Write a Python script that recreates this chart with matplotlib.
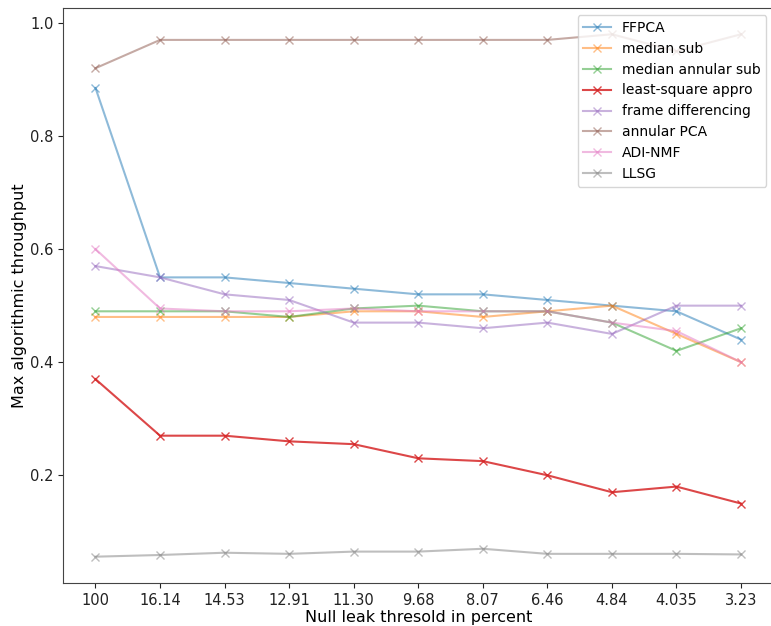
import matplotlib
matplotlib.use("Agg")
import matplotlib.pyplot as plt
import numpy as np

thresholds = ["100", "16.14", "14.53", "12.91", "11.30", "9.68", "8.07", "6.46", "4.84", "4.035", "3.23"]

ffpca = [0.885, 0.55, 0.55, 0.54, 0.53, 0.52, 0.52, 0.51, 0.50, 0.49, 0.44]
median_sub = [0.48, 0.48, 0.48, 0.48, 0.49, 0.49, 0.48, 0.49, 0.50, 0.45, 0.40]
median_annular_sub = [0.49, 0.49, 0.49, 0.48, 0.495, 0.50, 0.49, 0.49, 0.47, 0.42, 0.46]
least_square = [0.37, 0.27, 0.27, 0.26, 0.255, 0.23, 0.225, 0.20, 0.17, 0.18, 0.15]
frame_diff = [0.57, 0.55, 0.52, 0.51, 0.47, 0.47, 0.46, 0.47, 0.45, 0.50, 0.50]
annular_pca = [0.92, 0.97, 0.97, 0.97, 0.97, 0.97, 0.97, 0.97, 0.98, 0.95, 0.98]
adi_nmf = [0.60, 0.495, 0.49, 0.49, 0.495, 0.49, 0.49, 0.49, 0.47, 0.455, 0.40]
llsg = [0.056, 0.059, 0.063, 0.061, 0.065, 0.065, 0.07, 0.061, 0.061, 0.061, 0.06]

series = [
    ("FFPCA", ffpca, "#1f77b4", 0.5),
    ("median sub", median_sub, "#ff7f0e", 0.5),
    ("median annular sub", median_annular_sub, "#2ca02c", 0.5),
    ("least-square appro", least_square, "#d62728", 0.85),
    ("frame differencing", frame_diff, "#9467bd", 0.5),
    ("annular PCA", annular_pca, "#8c564b", 0.5),
    ("ADI-NMF", adi_nmf, "#e377c2", 0.5),
    ("LLSG", llsg, "#7f7f7f", 0.5),
]

fig = plt.figure(figsize=(7.71, 6.26), dpi=100)
ax = fig.add_axes([0.082, 0.069, 0.921, 0.918])
x = np.arange(len(thresholds))
for name, vals, color, alpha in series:
    ax.plot(x, vals, marker="x", color=color, alpha=alpha, label=name, linewidth=1.5, markersize=6)

for s in ax.spines.values():
    s.set_color("#444444")
ax.tick_params(colors="#222222", labelsize=10.5)
ax.set_xticks(x)
ax.set_xticklabels(thresholds)
ax.set_yticks([0.2, 0.4, 0.6, 0.8, 1.0])
ax.set_yticklabels(["0.2", "0.4", "0.6", "0.8", "1.0"])
ax.set_xlim(-0.5, 10.5)
ax.set_xlabel("Null leak thresold in percent", fontsize=11.5, labelpad=2)
ax.set_ylabel("Max algorithmic throughput", fontsize=11.5, labelpad=2)
ax.legend(loc="upper right", fontsize=10)
fig.savefig("out.png", dpi=100)
